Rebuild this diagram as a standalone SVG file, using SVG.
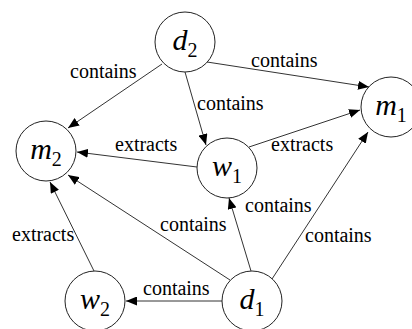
<svg xmlns="http://www.w3.org/2000/svg" width="412" height="329" viewBox="0 0 412 329">
<style>
.node circle{fill:#fff;stroke:#222;stroke-width:1}
.nl{font-size:30px;fill:#000}
.v{font-style:italic}
.s{font-size:20px}
.edges line{stroke:#333;stroke-width:1;marker-end:url(#arr)}
.el{font-size:20px;fill:#000}
</style>
<defs>
<marker id="arr" markerUnits="userSpaceOnUse" markerWidth="11" markerHeight="9" refX="11" refY="4.5" orient="auto">
<path d="M0,0 L11,4.5 L0,9 z" fill="#000"/>
</marker>
</defs>
<rect width="412" height="329" fill="#fff"/>
<g class="edges">
<line x1="162" y1="64" x2="68" y2="128"/>
<line x1="207" y1="62" x2="369" y2="87"/>
<line x1="185" y1="72" x2="206" y2="145"/>
<line x1="197" y1="167" x2="77" y2="152"/>
<line x1="249" y1="147" x2="360" y2="110"/>
<line x1="230" y1="280" x2="68" y2="175"/>
<line x1="251" y1="271" x2="229" y2="198"/>
<line x1="272" y1="279" x2="368" y2="132"/>
<line x1="94" y1="271" x2="50" y2="182"/>
<line x1="222" y1="301" x2="126" y2="301"/>
</g>
<g class="el" font-family="Liberation Serif, serif">
<text x="70" y="78">contains</text>
<text x="251" y="67">contains</text>
<text x="197" y="110">contains</text>
<text x="115" y="151">extracts</text>
<text x="271" y="151">extracts</text>
<text x="160" y="231">contains</text>
<text x="245" y="212">contains</text>
<text x="305" y="242">contains</text>
<text x="12" y="241">extracts</text>
<text x="143" y="295">contains</text>
</g>
<g id="d2" class="node"><circle cx="185" cy="42" r="30"/><text class="nl" font-family="Liberation Serif, serif" x="185" y="50" text-anchor="middle"><tspan class="v">d</tspan><tspan class="s" dy="7">2</tspan></text></g>
<g id="m1" class="node"><circle cx="391" cy="107" r="30"/><text class="nl" font-family="Liberation Serif, serif" x="391" y="115" text-anchor="middle"><tspan class="v">m</tspan><tspan class="s" dy="7">1</tspan></text></g>
<g id="m2" class="node"><circle cx="46" cy="151" r="30"/><text class="nl" font-family="Liberation Serif, serif" x="46" y="159" text-anchor="middle"><tspan class="v">m</tspan><tspan class="s" dy="7">2</tspan></text></g>
<g id="w1" class="node"><circle cx="227" cy="168" r="30"/><text class="nl" font-family="Liberation Serif, serif" x="227" y="176" text-anchor="middle"><tspan class="v">w</tspan><tspan class="s" dy="7">1</tspan></text></g>
<g id="w2" class="node"><circle cx="95" cy="301" r="30"/><text class="nl" font-family="Liberation Serif, serif" x="95" y="309" text-anchor="middle"><tspan class="v">w</tspan><tspan class="s" dy="7">2</tspan></text></g>
<g id="d1" class="node"><circle cx="252" cy="301" r="30"/><text class="nl" font-family="Liberation Serif, serif" x="252" y="309" text-anchor="middle"><tspan class="v">d</tspan><tspan class="s" dy="7">1</tspan></text></g>
</svg>
